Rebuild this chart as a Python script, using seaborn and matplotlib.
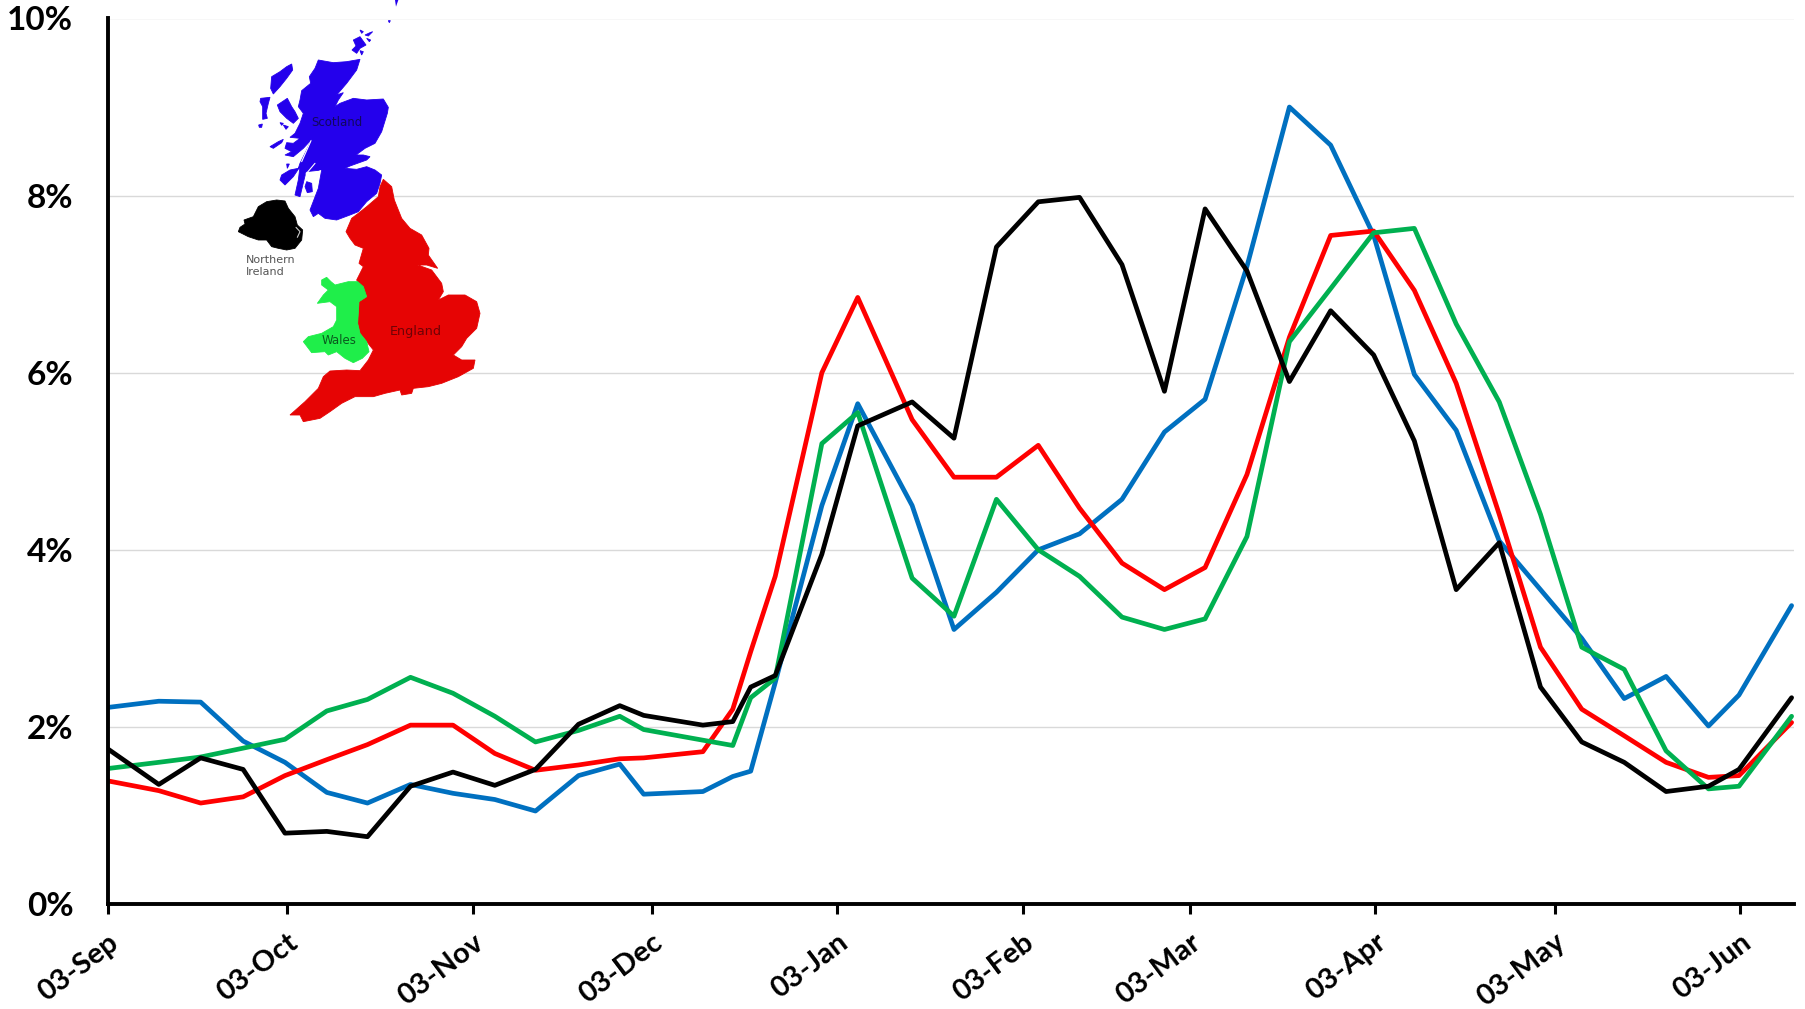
import matplotlib
matplotlib.use("Agg")
import matplotlib.pyplot as plt
import pandas as pd
import seaborn as sns

# days since 03-Sep, the report dates are not quite evenly spaced
day_offsets = [0, 8.5, 15.5, 22.6, 29.6, 36.6, 43.4, 50.6, 57.7, 64.7, 71.5, 78.7, 85.6, 89.6, 99.5, 104.5, 107.5,
               111.6, 119.4, 125.4, 134.5, 141.5, 148.6, 155.6, 162.5, 169.6, 176.7, 183.5, 190.5, 197.6, 204.5,
               211.7, 218.5, 225.5, 232.7, 239.6, 246.5, 253.6, 260.6, 267.7, 272.8, 281.6]

scotland = [2.22, 2.29, 2.28, 1.84, 1.60, 1.26, 1.14, 1.35, 1.25, 1.18, 1.05, 1.45, 1.58, 1.24, 1.27, 1.44, 1.50,
            2.50, 4.50, 5.65, 4.50, 3.10, 3.52, 4.00, 4.18, 4.57, 5.33, 5.70, 7.20, 9.00, 8.57, 7.55, 5.98, 5.35,
            4.10, 3.55, 3.00, 2.32, 2.57, 2.01, 2.36, 3.37]
england = [1.39, 1.28, 1.14, 1.21, 1.45, 1.63, 1.80, 2.02, 2.02, 1.70, 1.51, 1.57, 1.64, 1.65, 1.72, 2.20, 2.85,
           3.70, 6.00, 6.85, 5.47, 4.82, 4.82, 5.18, 4.47, 3.85, 3.55, 3.80, 4.85, 6.40, 7.55, 7.60, 6.93, 5.88,
           4.40, 2.90, 2.20, 1.90, 1.60, 1.43, 1.45, 2.05]
wales = [1.53, 1.60, 1.66, 1.76, 1.86, 2.18, 2.31, 2.56, 2.38, 2.12, 1.83, 1.96, 2.12, 1.97, 1.85, 1.79, 2.33,
         2.55, 5.20, 5.55, 3.68, 3.25, 4.57, 4.00, 3.70, 3.24, 3.10, 3.22, 4.15, 6.35, 6.95, 7.58, 7.63, 6.55,
         5.67, 4.40, 2.90, 2.65, 1.73, 1.30, 1.33, 2.12]
northern_ireland = [1.75, 1.35, 1.65, 1.52, 0.80, 0.82, 0.76, 1.33, 1.49, 1.34, 1.52, 2.03, 2.24, 2.13, 2.02, 2.06,
                    2.45, 2.58, 3.95, 5.40, 5.67, 5.26, 7.42, 7.93, 7.98, 7.22, 5.79, 7.85, 7.15, 5.90, 6.70, 6.20,
                    5.23, 3.55, 4.08, 2.45, 1.83, 1.60, 1.27, 1.33, 1.52, 2.33]

tick_dates = ["2020-09-03", "2020-10-03", "2020-11-03", "2020-12-03", "2021-01-03", "2021-02-03",
              "2021-03-03", "2021-04-03", "2021-05-03", "2021-06-03"]
tick_labels = ["03-Sep", "03-Oct", "03-Nov", "03-Dec", "03-Jan", "03-Feb", "03-Mar", "03-Apr", "03-May", "03-Jun"]
y_ticks = [0, 2, 4, 6, 8, 10]

colours = {"Scotland": "#0070C0", "England": "#FF0000", "Wales": "#00B050", "Northern Ireland": "#000000"}

# map outlines traced by eye, each list is in 3x pixels of its own crop of the image
SCOT_ORIGIN = (250, 20)
EW_ORIGIN = (285, 170)
NI_ORIGIN = (220, 0)
map_scotland = [
    [(395, 465), (375, 450), (350, 440), (320, 448), (285, 445), (300, 438), (350, 420), (360, 410), (340, 405),
     (318, 405), (345, 385), (375, 370), (395, 335), (412, 280), (415, 262), (400, 237), (350, 240), (310, 235),
     (270, 250), (255, 260), (265, 240), (280, 218), (260, 225), (290, 190), (320, 150), (330, 118), (290, 125),
     (250, 128), (205, 120), (195, 145), (178, 170), (182, 190), (155, 212), (150, 240), (145, 260), (160, 280),
     (150, 310), (135, 340), (120, 352), (150, 355), (130, 370), (110, 368), (105, 385), (125, 395), (105, 405),
     (130, 410), (160, 385), (185, 358), (170, 390), (150, 430), (145, 445), (120, 450), (95, 465), (90, 480),
     (105, 495), (130, 470), (150, 440), (145, 480), (135, 525), (150, 530), (162, 480), (168, 455), (215, 450),
     (205, 505), (180, 570), (190, 590), (205, 580), (225, 595), (260, 600), (300, 585), (325, 575), (350, 545),
     (380, 520), (390, 490)],
    [(170, 485), (185, 490), (187, 515), (172, 518), (165, 500)],
    [(125, 132), (128, 150), (110, 175), (90, 200), (70, 222), (62, 205), (65, 170), (90, 155), (110, 140)],
    [(32, 235), (60, 232), (55, 250), (48, 280), (52, 295), (38, 298), (38, 260), (30, 245)],
    [(26, 315), (37, 312), (35, 322), (28, 322)],
    [(82, 255), (112, 235), (125, 260), (135, 275), (145, 295), (130, 310), (110, 295), (90, 275)],
    [(90, 308), (100, 310), (95, 316)],
    [(100, 315), (115, 320), (108, 328)],
    [(60, 380), (85, 365), (100, 358), (95, 368), (70, 385)],
    [(110, 432), (118, 432), (112, 445)],
    [(310, 60), (330, 50), (348, 75), (330, 85), (320, 100), (306, 90), (318, 78)],
    [(330, 92), (340, 95), (335, 105)],
    [(330, 30), (340, 35), (335, 40)],
    [(345, 45), (360, 38), (368, 35), (355, 48)],
    [(350, 55), (362, 60), (358, 65)],
    [(415, 2), (421, 2), (418, 8)],
]
scotland_inlets = [[(168, 462), (195, 430)], [(178, 468), (212, 452)], [(155, 425), (183, 362)]]
map_top_stroke = [(525, 0), (535, 0), (528, 20)]
map_england = [(295, 28), (320, 50), (328, 90), (350, 145), (375, 175), (410, 195), (432, 235), (430, 255), (458, 295),
               (425, 285), (398, 285), (440, 300), (470, 340), (475, 365), (460, 390), (490, 375), (540, 375),
               (575, 395), (585, 430), (575, 475), (545, 505), (530, 530), (505, 555), (530, 570), (570, 570),
               (565, 595), (520, 620), (470, 640), (430, 650), (385, 655), (380, 670), (350, 675), (345, 660),
               (300, 670), (265, 680), (210, 680), (170, 700), (135, 725), (105, 745), (55, 755), (45, 735), (15, 735),
               (60, 695), (100, 655), (115, 620), (135, 603), (185, 600), (225, 602), (250, 570), (265, 540),
               (245, 515), (225, 490), (218, 460), (222, 395), (245, 380), (225, 345), (215, 330), (235, 290),
               (222, 280), (235, 235), (210, 225), (195, 205), (183, 185), (200, 145), (220, 130), (245, 110),
               (280, 80), (285, 50)]
map_wales = [(110, 330), (125, 322), (138, 335), (150, 345), (190, 335), (218, 335), (235, 350), (245, 380), (222, 395),
             (218, 460), (225, 490), (245, 515), (252, 545), (232, 565), (205, 578), (180, 565), (155, 545), (130, 555),
             (120, 545), (80, 548), (55, 515), (70, 500), (110, 490), (145, 470), (155, 450), (155, 410), (135, 395),
             (97, 400), (115, 375), (130, 360), (110, 345)]
map_ni = [(115, 620), (140, 605), (170, 600), (195, 603), (205, 625), (225, 650), (232, 675), (248, 690), (245, 720),
          (225, 745), (200, 750), (175, 745), (155, 740), (140, 720), (115, 720), (85, 710), (55, 695), (60, 682),
          (75, 672), (72, 660), (100, 650)]
ni_lough = [(228, 682), (240, 695), (232, 712)]


def to_px(points, origin):
    return [origin[0] + x / 3 for x, y in points], [origin[1] + y / 3 for x, y in points]


dates = pd.Timestamp("2020-09-03") + pd.to_timedelta(day_offsets, unit="D")
df = pd.DataFrame({"date": dates, "Scotland": scotland, "England": england, "Wales": wales,
                   "Northern Ireland": northern_ireland})
df = df.melt(id_vars="date", var_name="nation", value_name="pct")

sns.set_theme(style="white")
plt.rcParams["font.family"] = ["Lato", "DejaVu Sans"]

W, H = 1806, 1009
fig = plt.figure(figsize=(W / 100, H / 100), dpi=100)
ax = fig.add_axes([108 / W, 1 - 904 / H, (1794 - 108) / W, (904 - 18.5) / H])

sns.lineplot(data=df, x="date", y="pct", hue="nation", palette=colours, linewidth=3.4, legend=False,
             hue_order=["Scotland", "England", "Wales", "Northern Ireland"], ax=ax)

ax.set_xlim(pd.Timestamp("2020-09-03"), pd.Timestamp("2021-06-12"))
ax.set_ylim(0, 10)
ax.set_xlabel("")
ax.set_ylabel("")
ax.set_yticks(y_ticks)
ax.set_yticklabels([f"{v}%" for v in y_ticks], fontsize=24, fontweight="bold", color="black")
ax.set_xticks(pd.to_datetime(tick_dates))
ax.set_xticklabels(tick_labels, fontsize=21, fontweight="bold", color="black", rotation=37, ha="right",
                   rotation_mode="anchor")
ax.tick_params(axis="x", bottom=True, length=7, width=2.2, color="black", pad=11)
ax.tick_params(axis="y", left=False, pad=19)
ax.grid(axis="y", color="#D9D9D9", linewidth=1)
ax.grid(axis="x", visible=False)
ax.set_axisbelow(True)
sns.despine(ax=ax)
for side in ["left", "bottom"]:
    ax.spines[side].set_linewidth(2.8)
    ax.spines[side].set_color("black")

# --- map inset, drawn in image pixels ---
map_ax = fig.add_axes([0, 0, 1, 1])
map_ax.set_xlim(0, W)
map_ax.set_ylim(H, 0)
map_ax.axis("off")
map_ax.patch.set_alpha(0)

blue_map = "#2400EC"
for part in map_scotland:
    map_ax.fill(*to_px(part, SCOT_ORIGIN), color=blue_map, lw=0.6)
for inlet in scotland_inlets:
    map_ax.plot(*to_px(inlet, SCOT_ORIGIN), color="white", lw=0.8)
map_ax.fill(*to_px(map_top_stroke, NI_ORIGIN), color=blue_map, lw=0)
map_ax.fill(*to_px(map_england, EW_ORIGIN), color="#E60404", lw=0.6)
map_ax.fill(*to_px(map_wales, EW_ORIGIN), color="#1FEE4A", lw=0.6)
map_ax.fill(*to_px(map_ni, NI_ORIGIN), color="black", lw=0.6)
map_ax.plot(*to_px(ni_lough, NI_ORIGIN), color="#CCCCCC", lw=0.8)

map_ax.text(337, 123, "Scotland", fontsize=8.5, color="#12085E", ha="center", va="center", family="DejaVu Sans")
map_ax.text(416, 331, "England", fontsize=9.2, color="#6E0206", ha="center", va="center", family="DejaVu Sans")
map_ax.text(339, 340, "Wales", fontsize=8.5, color="#0A5A1E", ha="center", va="center", family="DejaVu Sans")
map_ax.text(246, 266, "Northern\nIreland", fontsize=8, color="#555555", ha="left", va="center", family="DejaVu Sans")

fig.savefig("out.png", dpi=100)
